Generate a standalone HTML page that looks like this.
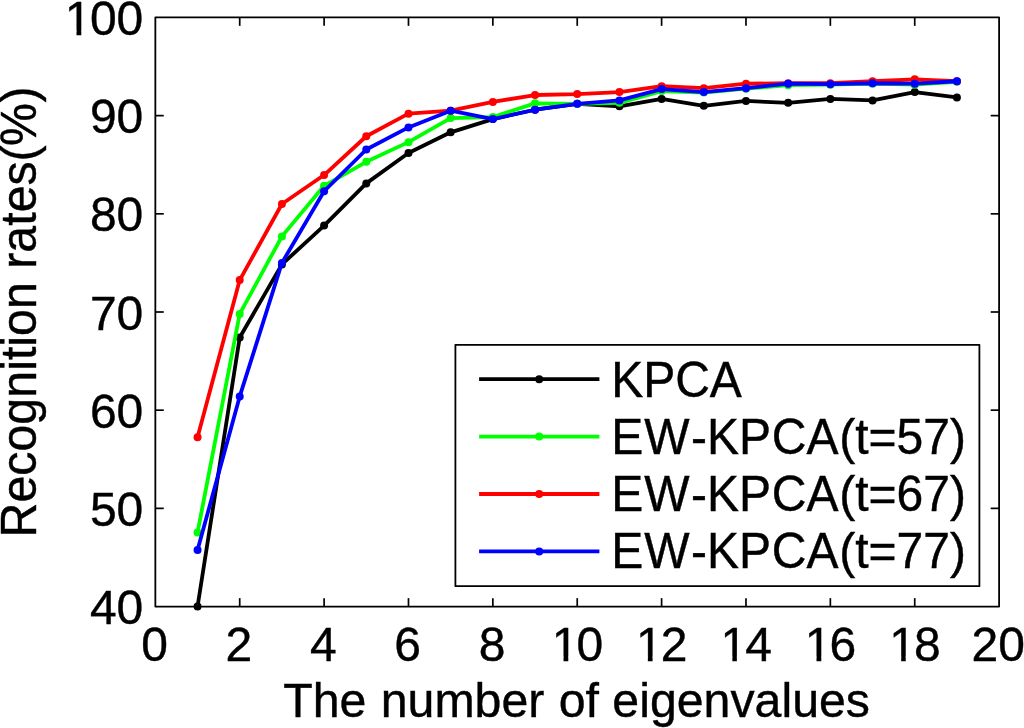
<!DOCTYPE html>
<html lang="en">
<head>
<meta charset="utf-8">
<title>Recognition rates vs number of eigenvalues</title>
<style>
html,body{margin:0;padding:0;background:#fff;}
body{width:1024px;height:728px;overflow:hidden;}
svg{display:block;filter:blur(0.45px);}
text{font-family:"Liberation Sans",Arial,Helvetica,sans-serif;font-size:48px;fill:#000;font-kerning:none;stroke:#000;stroke-width:0.4px;}
.ax{stroke:#000;stroke-width:1.8;fill:none;stroke-linejoin:round;}
.tk{stroke:#000;stroke-width:1.7;fill:none;}
.ln{fill:none;stroke-width:3.8;stroke-linejoin:round;stroke-linecap:round;}
</style>
</head>
<body>
<svg width="1024" height="728" viewBox="0 0 1024 728">
<rect x="0" y="0" width="1024" height="728" fill="#ffffff"/>

<g class="tk">
<line x1="239.72" y1="606.55" x2="239.72" y2="598.15"/>
<line x1="239.72" y1="17.45" x2="239.72" y2="25.85"/>
<line x1="324.10" y1="606.55" x2="324.10" y2="598.15"/>
<line x1="324.10" y1="17.45" x2="324.10" y2="25.85"/>
<line x1="408.48" y1="606.55" x2="408.48" y2="598.15"/>
<line x1="408.48" y1="17.45" x2="408.48" y2="25.85"/>
<line x1="492.85" y1="606.55" x2="492.85" y2="598.15"/>
<line x1="492.85" y1="17.45" x2="492.85" y2="25.85"/>
<line x1="577.23" y1="606.55" x2="577.23" y2="598.15"/>
<line x1="577.23" y1="17.45" x2="577.23" y2="25.85"/>
<line x1="661.60" y1="606.55" x2="661.60" y2="598.15"/>
<line x1="661.60" y1="17.45" x2="661.60" y2="25.85"/>
<line x1="745.98" y1="606.55" x2="745.98" y2="598.15"/>
<line x1="745.98" y1="17.45" x2="745.98" y2="25.85"/>
<line x1="830.35" y1="606.55" x2="830.35" y2="598.15"/>
<line x1="830.35" y1="17.45" x2="830.35" y2="25.85"/>
<line x1="914.73" y1="606.55" x2="914.73" y2="598.15"/>
<line x1="914.73" y1="17.45" x2="914.73" y2="25.85"/>
<line x1="155.35" y1="508.37" x2="163.75" y2="508.37"/>
<line x1="999.10" y1="508.37" x2="990.70" y2="508.37"/>
<line x1="155.35" y1="410.18" x2="163.75" y2="410.18"/>
<line x1="999.10" y1="410.18" x2="990.70" y2="410.18"/>
<line x1="155.35" y1="312.00" x2="163.75" y2="312.00"/>
<line x1="999.10" y1="312.00" x2="990.70" y2="312.00"/>
<line x1="155.35" y1="213.82" x2="163.75" y2="213.82"/>
<line x1="999.10" y1="213.82" x2="990.70" y2="213.82"/>
<line x1="155.35" y1="115.63" x2="163.75" y2="115.63"/>
<line x1="999.10" y1="115.63" x2="990.70" y2="115.63"/>
</g>
<polyline class="ln" stroke="#000000" points="197.54,606.55 239.72,337.53 281.91,264.38 324.10,225.60 366.29,183.38 408.48,152.94 450.66,132.32 492.85,119.07 535.04,109.74 577.23,103.85 619.41,106.31 661.60,98.94 703.79,105.81 745.98,100.91 788.16,102.87 830.35,98.94 872.54,100.41 914.73,92.07 956.91,97.47"/>
<g fill="#000000">
<circle cx="197.54" cy="606.55" r="4.0"/>
<circle cx="239.72" cy="337.53" r="4.0"/>
<circle cx="281.91" cy="264.38" r="4.0"/>
<circle cx="324.10" cy="225.60" r="4.0"/>
<circle cx="366.29" cy="183.38" r="4.0"/>
<circle cx="408.48" cy="152.94" r="4.0"/>
<circle cx="450.66" cy="132.32" r="4.0"/>
<circle cx="492.85" cy="119.07" r="4.0"/>
<circle cx="535.04" cy="109.74" r="4.0"/>
<circle cx="577.23" cy="103.85" r="4.0"/>
<circle cx="619.41" cy="106.31" r="4.0"/>
<circle cx="661.60" cy="98.94" r="4.0"/>
<circle cx="703.79" cy="105.81" r="4.0"/>
<circle cx="745.98" cy="100.91" r="4.0"/>
<circle cx="788.16" cy="102.87" r="4.0"/>
<circle cx="830.35" cy="98.94" r="4.0"/>
<circle cx="872.54" cy="100.41" r="4.0"/>
<circle cx="914.73" cy="92.07" r="4.0"/>
<circle cx="956.91" cy="97.47" r="4.0"/>
</g>
<polyline class="ln" stroke="#00ff00" points="197.54,532.42 239.72,313.96 281.91,236.40 324.10,185.83 366.29,161.78 408.48,142.14 450.66,118.09 492.85,117.11 535.04,103.36 577.23,103.85 619.41,102.87 661.60,91.09 703.79,92.56 745.98,88.63 788.16,85.20 830.35,84.71 872.54,83.72 914.73,84.71 956.91,81.76"/>
<g fill="#00ff00">
<circle cx="197.54" cy="532.42" r="4.0"/>
<circle cx="239.72" cy="313.96" r="4.0"/>
<circle cx="281.91" cy="236.40" r="4.0"/>
<circle cx="324.10" cy="185.83" r="4.0"/>
<circle cx="366.29" cy="161.78" r="4.0"/>
<circle cx="408.48" cy="142.14" r="4.0"/>
<circle cx="450.66" cy="118.09" r="4.0"/>
<circle cx="492.85" cy="117.11" r="4.0"/>
<circle cx="535.04" cy="103.36" r="4.0"/>
<circle cx="577.23" cy="103.85" r="4.0"/>
<circle cx="619.41" cy="102.87" r="4.0"/>
<circle cx="661.60" cy="91.09" r="4.0"/>
<circle cx="703.79" cy="92.56" r="4.0"/>
<circle cx="745.98" cy="88.63" r="4.0"/>
<circle cx="788.16" cy="85.20" r="4.0"/>
<circle cx="830.35" cy="84.71" r="4.0"/>
<circle cx="872.54" cy="83.72" r="4.0"/>
<circle cx="914.73" cy="84.71" r="4.0"/>
<circle cx="956.91" cy="81.76" r="4.0"/>
</g>
<polyline class="ln" stroke="#ff0000" points="197.54,437.18 239.72,280.09 281.91,204.00 324.10,175.03 366.29,136.25 408.48,113.67 450.66,110.72 492.85,101.89 535.04,95.01 577.23,94.03 619.41,92.07 661.60,86.18 703.79,88.14 745.98,83.72 788.16,83.23 830.35,83.23 872.54,81.27 914.73,79.31 956.91,81.27"/>
<g fill="#ff0000">
<circle cx="197.54" cy="437.18" r="4.0"/>
<circle cx="239.72" cy="280.09" r="4.0"/>
<circle cx="281.91" cy="204.00" r="4.0"/>
<circle cx="324.10" cy="175.03" r="4.0"/>
<circle cx="366.29" cy="136.25" r="4.0"/>
<circle cx="408.48" cy="113.67" r="4.0"/>
<circle cx="450.66" cy="110.72" r="4.0"/>
<circle cx="492.85" cy="101.89" r="4.0"/>
<circle cx="535.04" cy="95.01" r="4.0"/>
<circle cx="577.23" cy="94.03" r="4.0"/>
<circle cx="619.41" cy="92.07" r="4.0"/>
<circle cx="661.60" cy="86.18" r="4.0"/>
<circle cx="703.79" cy="88.14" r="4.0"/>
<circle cx="745.98" cy="83.72" r="4.0"/>
<circle cx="788.16" cy="83.23" r="4.0"/>
<circle cx="830.35" cy="83.23" r="4.0"/>
<circle cx="872.54" cy="81.27" r="4.0"/>
<circle cx="914.73" cy="79.31" r="4.0"/>
<circle cx="956.91" cy="81.27" r="4.0"/>
</g>
<polyline class="ln" stroke="#0000ff" points="197.54,550.09 239.72,396.44 281.91,262.91 324.10,191.23 366.29,149.51 408.48,127.42 450.66,110.72 492.85,119.07 535.04,109.74 577.23,103.85 619.41,100.41 661.60,89.12 703.79,92.07 745.98,88.14 788.16,83.72 830.35,84.21 872.54,83.23 914.73,83.72 956.91,81.27"/>
<g fill="#0000ff">
<circle cx="197.54" cy="550.09" r="4.0"/>
<circle cx="239.72" cy="396.44" r="4.0"/>
<circle cx="281.91" cy="262.91" r="4.0"/>
<circle cx="324.10" cy="191.23" r="4.0"/>
<circle cx="366.29" cy="149.51" r="4.0"/>
<circle cx="408.48" cy="127.42" r="4.0"/>
<circle cx="450.66" cy="110.72" r="4.0"/>
<circle cx="492.85" cy="119.07" r="4.0"/>
<circle cx="535.04" cy="109.74" r="4.0"/>
<circle cx="577.23" cy="103.85" r="4.0"/>
<circle cx="619.41" cy="100.41" r="4.0"/>
<circle cx="661.60" cy="89.12" r="4.0"/>
<circle cx="703.79" cy="92.07" r="4.0"/>
<circle cx="745.98" cy="88.14" r="4.0"/>
<circle cx="788.16" cy="83.72" r="4.0"/>
<circle cx="830.35" cy="84.21" r="4.0"/>
<circle cx="872.54" cy="83.23" r="4.0"/>
<circle cx="914.73" cy="83.72" r="4.0"/>
<circle cx="956.91" cy="81.27" r="4.0"/>
</g>
<rect class="ax" x="155.35" y="17.45" width="843.75" height="589.10"/>
<rect x="455.40" y="344.80" width="524.00" height="241.40" fill="#fff" stroke="#000" stroke-width="1.8" stroke-linejoin="round"/>
<line x1="479.1" y1="379.20" x2="599.4" y2="379.20" stroke="#000000" stroke-width="3.8"/>
<circle cx="539.2" cy="379.20" r="4.0" fill="#000000"/>
<text transform="translate(611.2,396.90) scale(1,1.05)">KPCA</text>
<line x1="479.1" y1="436.60" x2="599.4" y2="436.60" stroke="#00ff00" stroke-width="3.8"/>
<circle cx="539.2" cy="436.60" r="4.0" fill="#00ff00"/>
<text transform="translate(611.2,453.80) scale(1,1.05)" dx="0 1 1.4 0 0 0.8 0 0.8">EW-KPCA(t=57)</text>
<line x1="479.1" y1="494.00" x2="599.4" y2="494.00" stroke="#ff0000" stroke-width="3.8"/>
<circle cx="539.2" cy="494.00" r="4.0" fill="#ff0000"/>
<text transform="translate(611.2,511.10) scale(1,1.05)" dx="0 1 1.4 0 0 0.8 0 0.8">EW-KPCA(t=67)</text>
<line x1="479.1" y1="551.40" x2="599.4" y2="551.40" stroke="#0000ff" stroke-width="3.8"/>
<circle cx="539.2" cy="551.40" r="4.0" fill="#0000ff"/>
<text transform="translate(611.2,568.45) scale(1,1.05)" dx="0 1 1.4 0 0 0.8 0 0.8">EW-KPCA(t=77)</text>
<text transform="translate(154.55,661.4) scale(1,1.01)" text-anchor="middle">0</text>
<text transform="translate(238.92,661.4) scale(1,1.01)" text-anchor="middle">2</text>
<text transform="translate(323.30,661.4) scale(1,1.01)" text-anchor="middle">4</text>
<text transform="translate(407.68,661.4) scale(1,1.01)" text-anchor="middle">6</text>
<text transform="translate(492.05,661.4) scale(1,1.01)" text-anchor="middle">8</text>
<text transform="translate(575.43,661.4) scale(1,1.01)" text-anchor="middle" dx="2 -2">10</text>
<text transform="translate(659.80,661.4) scale(1,1.01)" text-anchor="middle" dx="2 -2">12</text>
<text transform="translate(744.18,661.4) scale(1,1.01)" text-anchor="middle" dx="2 -2">14</text>
<text transform="translate(828.55,661.4) scale(1,1.01)" text-anchor="middle" dx="2 -2">16</text>
<text transform="translate(912.93,661.4) scale(1,1.01)" text-anchor="middle" dx="2 -2">18</text>
<text transform="translate(998.30,661.4) scale(1,1.01)" text-anchor="middle">20</text>
<text transform="translate(143.30,624.15) scale(1,1.01)" text-anchor="end">40</text>
<text transform="translate(143.30,525.97) scale(1,1.01)" text-anchor="end">50</text>
<text transform="translate(143.30,427.78) scale(1,1.01)" text-anchor="end">60</text>
<text transform="translate(143.30,329.60) scale(1,1.01)" text-anchor="end">70</text>
<text transform="translate(143.30,231.42) scale(1,1.01)" text-anchor="end">80</text>
<text transform="translate(143.30,133.23) scale(1,1.01)" text-anchor="end">90</text>
<text transform="translate(141.80,35.05) scale(1,1.01)" text-anchor="end" dx="1.5 -1.5 0">100</text>
<g fill="#ffffff">
<rect x="553.75" y="656.60" width="9.76" height="5.60"/>
<rect x="568.30" y="656.60" width="9.07" height="5.60"/>
<rect x="637.89" y="656.60" width="9.97" height="5.60"/>
<rect x="652.58" y="656.60" width="9.03" height="5.60"/>
<rect x="722.45" y="656.60" width="9.90" height="5.60"/>
<rect x="736.87" y="656.60" width="9.18" height="5.60"/>
<rect x="806.75" y="656.60" width="9.76" height="5.60"/>
<rect x="821.30" y="656.60" width="9.07" height="5.60"/>
<rect x="891.13" y="656.60" width="10.07" height="5.60"/>
<rect x="905.73" y="656.60" width="9.02" height="5.60"/>
<rect x="66.75" y="30.60" width="9.76" height="5.60"/>
<rect x="81.30" y="30.60" width="9.07" height="5.60"/>
</g>
<text transform="translate(576.6,717.4) scale(1.0057,1.02)" text-anchor="middle" dx="0 0 0 0 0.8 0 0 0 0 0 0 0.9">The number of eigenvalues</text>
<text transform="translate(36,537.47) rotate(-90) scale(1.007,1.04)" dx="0 0 0 0 0 0 0 0 0 0 0 0 0 0 0 0 0 -0.3 -0.4 0.5">Recognition rates(%)</text>
</svg>
</body>
</html>
